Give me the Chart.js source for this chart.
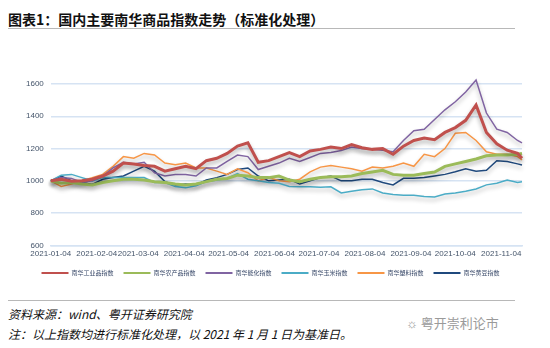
<!DOCTYPE html>
<html>
<head>
<meta charset="utf-8">
<script src="https://cdn.jsdelivr.net/npm/chart.js@4"></script>
<style>
  html, body { margin: 0; padding: 0; background: #fff; }
  body { width: 550px; height: 348px; position: relative; overflow: hidden;
         font-family: "Noto Sans CJK SC", "Noto Sans", sans-serif; }
  #titulo { position: absolute; left: 8px; top: 9px; font-size: 14px; font-weight: bold; color: #111; white-space: nowrap; }
  .linha { position: absolute; left: 8px; width: 507px; height: 1px; background: #b8b8b8; }
  #box { position: absolute; left: 0; top: 30px; width: 550px; height: 256px; }
  .nota { position: absolute; left: 8px; font-size: 12px; font-style: italic; color: #111; white-space: nowrap; }
  #marca { position: absolute; left: 406px; top: 313px; font-size: 13px; color: #9a9a9a; white-space: nowrap; }
</style>
</head>
<body>
<div id="titulo">图表1：国内主要南华商品指数走势（标准化处理）</div>
<div class="linha" style="top:28px"></div>
<div id="box"><canvas id="grafico"></canvas></div>
<div class="linha" style="top:300px"></div>
<div class="nota" style="top:305px">资料来源：wind、粤开证券研究院</div>
<div class="nota" style="top:325px">注：以上指数均进行标准化处理，以 2021 年 1 月 1 日为基准日。</div>
<div id="marca">&#9788; 粤开崇利论市</div>

<script>
// =========================
// DADOS
// =========================
const dates = [
  "2021-01-04","2021-01-11","2021-01-18","2021-01-25","2021-02-01","2021-02-08","2021-02-15","2021-02-22",
  "2021-03-01","2021-03-08","2021-03-15","2021-03-22","2021-03-29","2021-04-05","2021-04-12","2021-04-19",
  "2021-04-26","2021-05-03","2021-05-10","2021-05-17","2021-05-24","2021-05-31","2021-06-07","2021-06-14",
  "2021-06-21","2021-06-28","2021-07-05","2021-07-12","2021-07-19","2021-07-26","2021-08-02","2021-08-09",
  "2021-08-16","2021-08-23","2021-08-30","2021-09-06","2021-09-13","2021-09-20","2021-09-27","2021-10-04",
  "2021-10-11","2021-10-18","2021-10-25","2021-11-01","2021-11-08","2021-11-15","2021-11-18"
];

const tickLabels = [
  "2021-01-04","2021-02-04","2021-03-04","2021-04-04","2021-05-04","2021-06-04",
  "2021-07-04","2021-08-04","2021-09-04","2021-10-04","2021-11-04"
];

const yTicks = [600, 800, 1000, 1200, 1400, 1600];

const seriesNames = ["南华工业品指数", "南华农产品指数", "南华能化指数", "南华玉米指数", "南华塑料指数", "南华黄豆指数"];

const industrial = [1000,1010,998,1000,1010,1030,1060,1110,1105,1095,1090,1060,1075,1090,1075,1125,
  1140,1170,1215,1235,1115,1125,1150,1175,1150,1185,1195,1210,1200,1225,1205,1195,
  1200,1165,1215,1250,1265,1255,1300,1330,1375,1470,1300,1230,1190,1170,1140];

const agri = [1000,985,990,980,975,990,1000,1010,1010,1005,995,990,980,975,980,995,
  1010,1015,1035,1030,1020,1020,1030,1005,995,1010,1020,1025,1025,1030,1045,1055,
  1065,1040,1035,1035,1045,1055,1090,1105,1120,1135,1155,1160,1160,1165,1170];

const energy = [1000,1020,1015,990,1000,1030,1080,1115,1105,1115,1050,1030,1040,1040,1030,1080,
  1080,1120,1160,1150,1070,1090,1110,1140,1120,1145,1170,1175,1188,1210,1200,1195,
  1190,1180,1250,1310,1320,1380,1440,1490,1550,1625,1420,1320,1300,1250,1235];

const corn = [1000,1035,1040,1020,1000,1020,1020,1020,1020,1020,990,990,965,958,970,995,
  1005,1015,1045,1010,1000,990,985,965,963,963,960,963,925,935,945,950,
  925,915,911,910,903,900,918,925,935,950,975,985,1005,990,994];

const plastic = [1000,965,980,1000,1020,1040,1090,1150,1140,1170,1160,1110,1100,1110,1080,1080,
  1060,1040,1075,1050,1000,1020,1000,995,1010,1056,1085,1095,1085,1075,1060,1085,
  1080,1090,1110,1090,1165,1150,1200,1295,1300,1250,1180,1165,1165,1150,1130];

const soybean = [1000,1030,1000,990,978,1010,1020,1030,1060,1090,1060,995,975,980,975,1005,
  1020,1040,1070,1080,1030,1000,1005,1010,980,1000,1020,1030,1000,1000,1010,1010,
  990,975,1016,1016,1020,1030,1040,1056,1075,1060,1065,1125,1120,1105,1098];

// =========================
// HELPERS
// =========================
const base = Date.parse("2021-01-04");
const dayOf = d => Math.round((Date.parse(d) - base) / 86400000);
const pontos = arr => arr.map((v, i) => ({ x: dayOf(dates[i]), y: v }));

const cores = ["#C0504D", "#9BBB59", "#8064A2", "#4BACC6", "#F79646", "#1F497D"];
const larguras = [3, 3, 1.5, 1.5, 1.5, 1.5];
const valores = [industrial, agri, energy, corn, plastic, soybean];

const datasets = valores.map((arr, i) => ({
  label: seriesNames[i],
  data: pontos(arr),
  borderColor: cores[i],
  backgroundColor: cores[i],
  borderWidth: larguras[i],
  pointRadius: 0,
  tension: 0,
  clip: 8
}));

// sombra estilo Excel
const sombra = {
  id: "sombra",
  beforeDatasetsDraw(chart) {
    const ctx = chart.ctx;
    ctx.save();
    ctx.shadowColor = "rgba(0,0,0,0.3)";
    ctx.shadowBlur = 4;
    ctx.shadowOffsetY = 3;
  },
  afterDatasetsDraw(chart) {
    chart.ctx.restore();
  }
};

const tickFont = { family: "'Liberation Sans', Arial, sans-serif", size: 8 };

// =========================
// GRÁFICO
// =========================
new Chart(document.getElementById("grafico"), {
  type: "line",
  data: { datasets },
  plugins: [sombra],
  options: {
    responsive: true,
    maintainAspectRatio: false,
    animation: false,
    layout: { padding: { top: 54, left: 19, right: 28, bottom: 0 } },
    plugins: {
      tooltip: { enabled: false },
      legend: {
        position: "bottom",
        labels: {
          boxWidth: 27,
          boxHeight: 2,
          padding: 10,
          color: "#3a4a6a",
          font: { family: "'Noto Sans CJK SC', sans-serif", size: 6 },
          generateLabels: chart =>
            Chart.defaults.plugins.legend.labels.generateLabels(chart)
              .map(item => ({ ...item, lineWidth: 0 }))
        }
      }
    },
    scales: {
      x: {
        type: "linear",
        min: 0,
        max: dayOf(dates[dates.length - 1]),
        afterBuildTicks: axis => {
          axis.ticks = tickLabels.map(t => ({ value: dayOf(t) }));
        },
        ticks: {
          autoSkip: false,
          maxRotation: 0,
          color: "#44546A",
          font: tickFont,
          padding: 1,
          callback: v => tickLabels.find(t => dayOf(t) === v) || ""
        },
        grid: { display: false, drawTicks: true, tickLength: 3, color: "#D6E3F3" },
        border: { display: true, color: "#D6E3F3", width: 1.5 }
      },
      y: {
        min: 600,
        max: 1600,
        afterBuildTicks: axis => {
          axis.ticks = yTicks.map(v => ({ value: v }));
        },
        ticks: { color: "#44546A", font: tickFont, padding: 7, callback: v => String(v) },
        grid: { color: "#D6E3F3", lineWidth: 1.5, drawTicks: false },
        border: { display: false }
      }
    }
  }
});
</script>
</body>
</html>
